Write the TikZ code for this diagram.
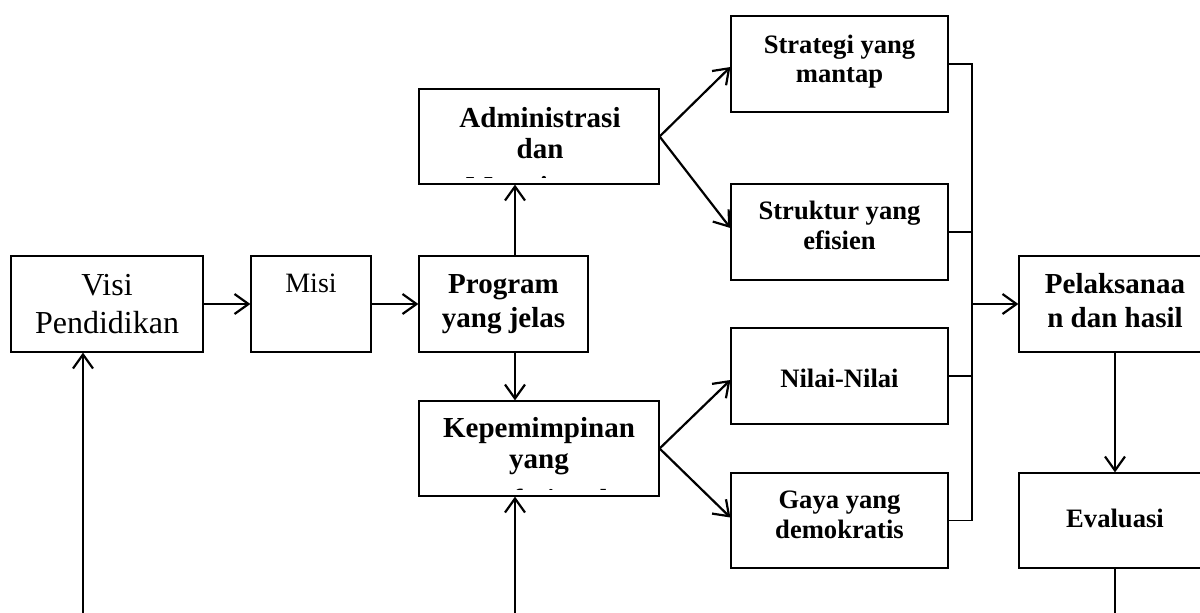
\documentclass[tikz,border=0pt]{standalone}
\usepackage{fontspec}
\setmainfont{Liberation Serif}
\usetikzlibrary{arrows.meta}
\begin{document}
\begin{tikzpicture}[x=0.5pt,y=-0.5pt,
 box/.style={draw, line width=0.6pt, inner sep=0pt},
 big/.style={font=\fontsize{14.5}{16.5}\selectfont\bfseries, inner sep=0pt, anchor=base},
 small/.style={font=\fontsize{13.3}{15}\selectfont\bfseries, inner sep=0pt, anchor=base},
 reg/.style={font=\fontsize{16}{19}\selectfont, inner sep=0pt, anchor=base},
 regs/.style={font=\fontsize{14}{17}\selectfont, inner sep=0pt, anchor=base},
 arr/.style={line width=1.1pt, -{Straight Barb[length=7pt,width=10pt]}},
 bus/.style={line width=0.75pt},
 plain/.style={line width=1.1pt}]
\useasboundingbox (0,0) rectangle (1200,612);

% boxes
\node[box, minimum width=96pt, minimum height=48pt] (visi) at (107,304) {};
\node[box, minimum width=60pt, minimum height=48pt] (misi) at (311,304) {};
\node[box, minimum width=84.5pt, minimum height=48pt] (prog) at (503.5,304) {};
\node[box, minimum width=120pt, minimum height=47.5pt] (adm) at (539,136.5) {};
\node[box, minimum width=120pt, minimum height=47.5pt] (kep) at (539,448.5) {};
\node[box, minimum width=108.5pt, minimum height=48pt] (strat) at (839.5,64) {};
\node[box, minimum width=108.5pt, minimum height=48pt] (strk) at (839.5,232) {};
\node[box, minimum width=108.5pt, minimum height=48pt] (nilai) at (839.5,376) {};
\node[box, minimum width=108.5pt, minimum height=47.5pt] (gaya) at (839.5,520.5) {};
\node[box, minimum width=96pt, minimum height=48pt] (pel) at (1115,304) {};
\node[box, minimum width=96pt, minimum height=47.5pt] (eval) at (1115,520.5) {};

% texts
\node[reg] (visit1) at (107,295) {Visi};
\node[reg] (visit2) at (107,333) {Pendidikan};
\node[regs] (misit) at (311,292) {Misi};
\node[big] (progt1) at (503.5,293) {Program};
\node[big] (progt2) at (503.5,327) {yang jelas};
\begin{scope}
\clip (adm.north west) rectangle ([yshift=3.5pt]adm.south east);
\node[big] (admt1) at (540,127) {Administrasi};
\node[big] (admt2) at (540,158) {dan};
\node[big] (admt3) at (540,196) {Manajemen};
\end{scope}
\begin{scope}
\clip (kep.north west) rectangle ([yshift=3.5pt]kep.south east);
\node[big] (kept1) at (539,437) {Kepemimpinan};
\node[big] (kept2) at (539,468) {yang};
\node[big] (kept3) at (539,509) {profesional};
\end{scope}
\node[small] (stratt1) at (839.5,53) {Strategi yang};
\node[small] (stratt2) at (839.5,82) {mantap};
\node[small] (strkt1) at (839.5,219) {Struktur yang};
\node[small] (strkt2) at (839.5,249) {efisien};
\node[small] (nilait) at (839.5,387) {Nilai-Nilai};
\node[small] (gayat1) at (839.5,508) {Gaya yang};
\node[small] (gayat2) at (839.5,538) {demokratis};
\node[big] (pelt1) at (1115,293) {Pelaksanaa};
\node[big] (pelt2) at (1115,327) {n dan hasil};
\node[small] (evalt) at (1115,527) {Evaluasi};

% helper coordinates
\coordinate (ax) at (515,0);
\coordinate (busx) at (972,0);
\coordinate (vin) at (83,620);
\coordinate (kin) at (515,620);
\coordinate (eout) at (1115,620);

% connectors
\draw[arr] (visi.east) -- (misi.west);
\draw[arr] (misi.east) -- (prog.west);
\draw[arr] (prog.north -| ax) -- (adm.south -| ax);
\draw[arr] (prog.south -| ax) -- (kep.north -| ax);
\draw[arr] (adm.east) -- ([yshift=-1.5pt]strat.west);
\draw[arr] (adm.east) -- ([yshift=2pt]strk.west);
\draw[arr] (kep.east) -- ([yshift=-2pt]nilai.west);
\draw[arr] (kep.east) -- ([yshift=1.5pt]gaya.west);
\draw[bus] (strat.east) -- (strat.east -| busx) -- (gaya.east -| busx) -- (gaya.east);
\draw[bus] (strk.east) -- (strk.east -| busx);
\draw[bus] (nilai.east) -- (nilai.east -| busx);
\draw[arr] (pel.west -| busx) -- (pel.west);
\draw[arr] (pel.south) -- (eval.north);
\draw[plain] (eval.south) -- (eout);
\draw[arr] (vin) -- (visi.south -| vin);
\draw[arr] (kin) -- (kep.south -| kin);
\end{tikzpicture}
\end{document}
